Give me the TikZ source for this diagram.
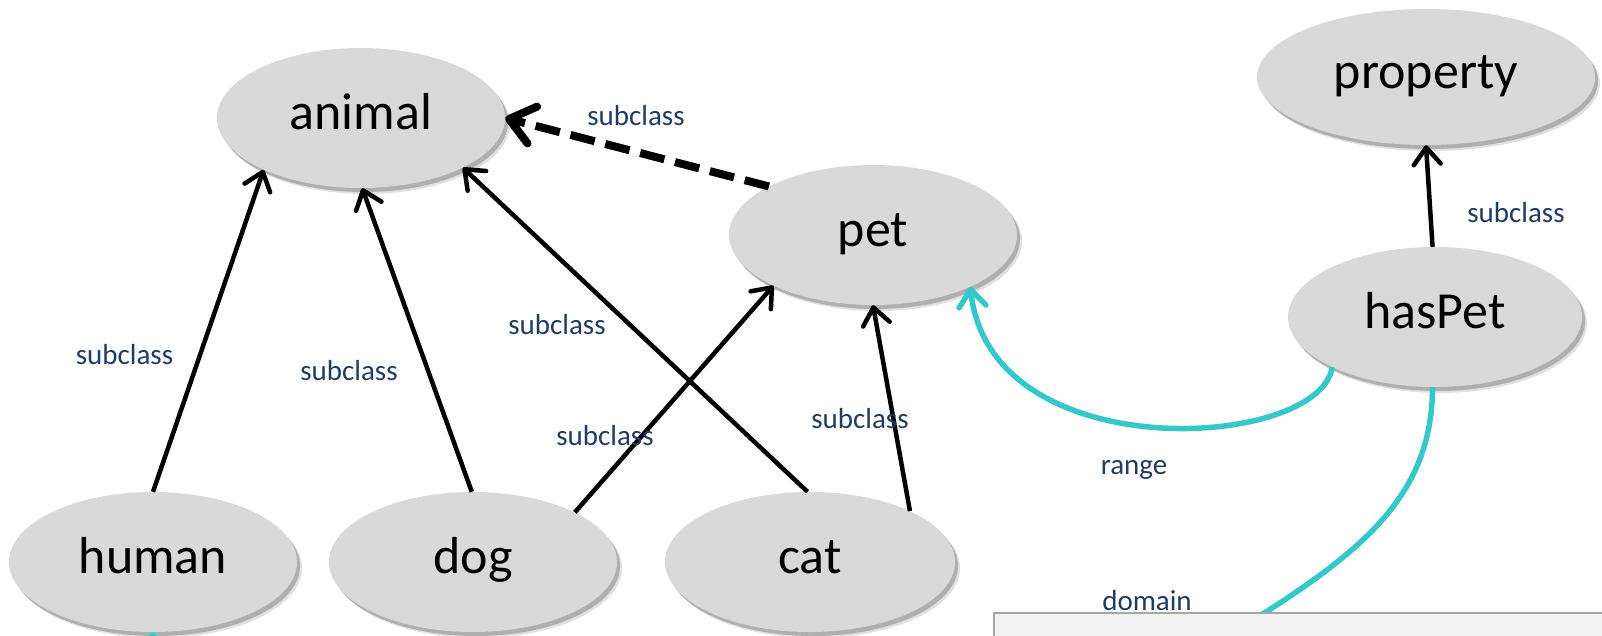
\documentclass[tikz,border=0pt]{standalone}
\usepackage{fontspec}
\setmainfont{Carlito}
\usetikzlibrary{shapes.geometric,arrows.meta,shadows}
\definecolor{ellgray}{HTML}{D9D9D9}
\definecolor{navy}{HTML}{1F3B68}
\definecolor{tealc}{RGB}{52,200,204}
\definecolor{panelfill}{HTML}{F2F2F2}
\definecolor{panelline}{HTML}{A6A6A6}
\begin{document}
\begin{tikzpicture}[x=1pt,y=-1pt,
  cls/.style={ellipse, fill=ellgray, inner sep=0pt, minimum width=288pt, minimum height=140pt,
    font=\fontsize{52}{60}\selectfont, text height=36pt, text depth=14pt,
    drop shadow={shadow xshift=5pt,shadow yshift=-6pt,opacity=0.12,fill=black},
    drop shadow={shadow xshift=3pt,shadow yshift=-4pt,opacity=0.22,fill=black}},
  lbl/.style={font=\fontsize{29}{34}\selectfont, text=navy, anchor=base, inner sep=0pt},
  sub/.style={line width=4.5pt, -{Straight Barb[length=17pt,width=27pt,round]}},
  subdash/.style={line width=8pt, dash pattern=on 25pt off 11pt, -{Straight Barb[length=24pt,width=38pt,round]}},
  rel/.style={line width=5.5pt, draw=tealc, -{Straight Barb[length=17pt,width=27pt,round]}},
  panelbox/.style={draw=panelline, fill=panelfill, line width=1.5pt, anchor=north west, inner sep=0pt},
]
\useasboundingbox (0,0) rectangle (1602,635);
\clip (0,0) rectangle (1602,635);

\node[cls] (animal) at (361,118) {animal};
\node[cls] (pet) at (873,235) {pet};
\node[cls, minimum width=338pt, minimum height=136pt] (property) at (1426,77) {property};
\node[cls, minimum width=294pt] (hasPet) at (1435,317) {hasPet};
\node[cls] (human) at (153,562) {human};
\node[cls] (dog) at (473,562) {dog};
\node[cls, minimum width=290pt] (cat) at (810,562) {cat};

\draw[sub] (human.90) -- (animal.-152);
\draw[sub] (dog.91) -- (animal.-89);
\draw[sub] (cat.92) -- (animal.-26);
\draw[sub] (dog.26) -- (pet.-153);
\draw[sub] (cat.27) -- (pet.-90);
\draw[subdash] (pet.155) -- (animal.0);
\draw[sub] (hasPet.92) -- (property.-90);

\draw[rel] (hasPet.-154) .. controls (1320,450) and (990,470) .. (pet.-28);
\coordinate (dbend) at (1266,612);
\draw[rel] (hasPet.-92) .. controls (1432,490) and (1370,545) .. (dbend)
  .. controls (1162,679) and (153,760) .. (human.-90);

\node[panelbox, minimum width=700pt, minimum height=60pt] (panel) at (993,612) {};

\node[lbl] (l1) at (124.5,364) {subclass};
\node[lbl] (l2) at (349,380) {subclass};
\node[lbl] (l3) at (557,334) {subclass};
\node[lbl] (l4) at (605,445) {subclass};
\node[lbl] (l5) at (636,125) {subclass};
\node[lbl] (l6) at (860,428) {subclass};
\node[lbl] (l7) at (1516,222) {subclass};
\node[lbl] (lrange) at (1134,474) {range};
\node[lbl] (ldomain) at (1147,610) {domain};
\end{tikzpicture}
\end{document}
